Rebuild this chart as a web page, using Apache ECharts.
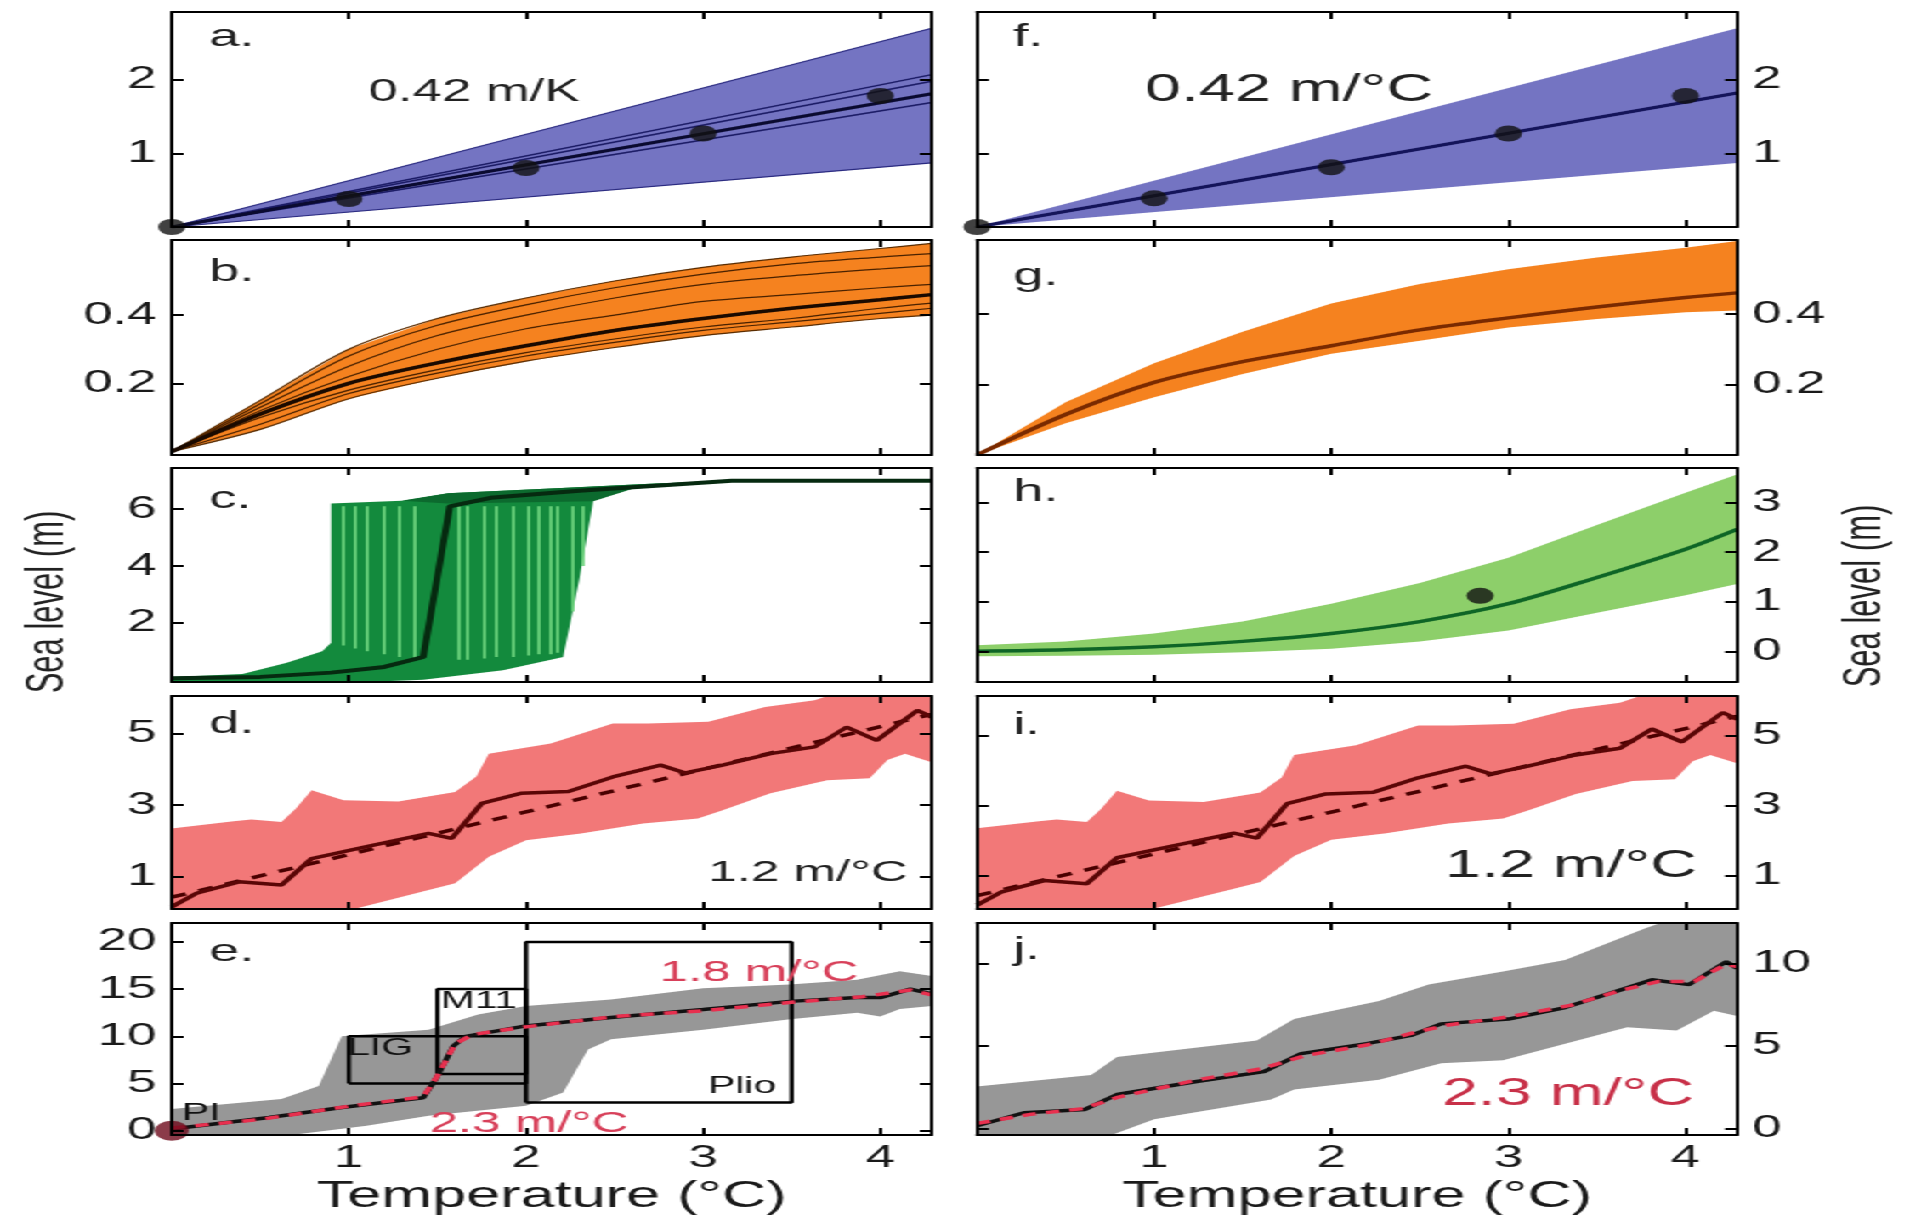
<!DOCTYPE html>
<html>
<head>
<meta charset="utf-8">
<script src="https://cdn.jsdelivr.net/npm/echarts@6/dist/echarts.min.js"></script>
<style>
  html, body { margin: 0; padding: 0; background: #fff; }
  #wrap { width: 1907px; height: 1216px; overflow: hidden; }
  /* the source figure is stretched sideways, so the chart is drawn narrow and widened */
  #chart { width: 1122px; height: 1216px; transform: scaleX(1.7); transform-origin: 0 0; }
</style>
</head>
<body>
<div id="wrap"><div id="chart"></div></div>
<script>
// ---- data (temperature in degC on x, sea level in m on y) ----
var xTicks = [1, 2, 3, 4]
var aTicks = [1, 2], bTicks = [0.2, 0.4], cTicks = [2, 4, 6], dTicks = [1, 3, 5], eTicks = [0, 5, 10, 15, 20]
var fTicks = [1, 2], gTicks = [0.2, 0.4], hTicks = [0, 1, 2, 3], iTicks = [1, 3, 5], jTicks = [0, 5, 10]

// a / f : linear fits
var aUpperEnd = 2.70, aLowerEnd = 0.87, aMainEnd = 1.81
var aModelEnds = [2.07, 1.98, 1.69]
var aDots = [[0, 0], [1, 0.38], [2, 0.80], [3, 1.27], [4, 1.78]]
var fUpperEnd = 2.70, fLowerEnd = 0.87, fMainEnd = 1.82
var fDots = [[0, 0], [1, 0.39], [2, 0.81], [3, 1.27], [4, 1.78]]

// b / g : glaciers
var bgX = [0, 0.5, 1, 1.5, 2, 2.5, 3, 3.5, 4, 4.29]
var bUpper = [0, 0.15, 0.30, 0.39, 0.45, 0.50, 0.54, 0.57, 0.595, 0.61]
var bLower = [0, 0.065, 0.155, 0.215, 0.265, 0.305, 0.34, 0.365, 0.39, 0.40]
var bMain = [0, 0.11, 0.20, 0.26, 0.31, 0.355, 0.39, 0.42, 0.445, 0.46]
var bModels = [
  [0, 0.14, 0.28, 0.37, 0.43, 0.48, 0.52, 0.55, 0.57, 0.58],
  [0, 0.13, 0.25, 0.34, 0.40, 0.45, 0.49, 0.515, 0.535, 0.545],
  [0, 0.12, 0.22, 0.30, 0.36, 0.40, 0.44, 0.46, 0.48, 0.49],
  [0, 0.10, 0.18, 0.24, 0.29, 0.33, 0.365, 0.39, 0.42, 0.435],
  [0, 0.08, 0.17, 0.23, 0.28, 0.32, 0.355, 0.38, 0.405, 0.42]
]
var gUpper = [0, 0.15, 0.26, 0.35, 0.43, 0.485, 0.527, 0.56, 0.588, 0.607]
var gLower = [0, 0.09, 0.164, 0.23, 0.287, 0.324, 0.362, 0.386, 0.405, 0.41]
var gMain = [0, 0.115, 0.206, 0.265, 0.31, 0.355, 0.389, 0.42, 0.447, 0.46]

// c : Greenland threshold ensemble, h : Greenland fit
var cEnvelope = [[0, -0.1], [0, 0.1], [0.4, 0.2], [0.65, 0.6], [0.85, 1.0], [0.9, 1.3], [0.9, 6.2], [1.3, 6.3],
  [1.56, 6.56], [2.2, 6.75], [2.7, 6.9], [3.16, 7.0], [2.6, 6.72], [2.38, 6.3], [2.3, 3.5], [2.21, 0.8],
  [1.87, 0.33], [1.42, 0.0], [1.0, -0.1]]
var cTopBand = [[1.3, 6.3], [1.56, 6.56], [2.2, 6.75], [2.7, 6.9], [3.16, 7.0], [2.6, 6.72], [2.38, 6.28], [1.56, 6.2]]
var cStripeX = [0.97, 1.03, 1.10, 1.20, 1.28, 1.37, 1.62, 1.67, 1.76, 1.83, 1.93, 2.01, 2.07, 2.14, 2.18, 2.26, 2.32]
var cStripeLo = [1.2, 1.1, 1.0, 0.9, 0.8, 0.7, 0.7, 0.7, 0.75, 0.8, 0.8, 0.85, 0.9, 0.9, 0.95, 2.4, 4.0]
var cStripeHi = [6.1, 6.1, 6.1, 6.1, 6.1, 6.1, 6.1, 6.1, 6.1, 6.1, 6.1, 6.1, 6.1, 6.1, 6.1, 6.1, 6.1]
var cMain = [[0, 0.05], [0.5, 0.1], [0.9, 0.25], [1.2, 0.45], [1.42, 0.8], [1.57, 6.1], [1.8, 6.4], [2.3, 6.65],
  [2.8, 6.85], [3.16, 7.0], [4.29, 7.0]]
var hX = [0, 0.5, 1, 1.5, 2, 2.5, 3, 3.5, 4, 4.29]
var hUpper = [0.12, 0.2, 0.36, 0.6, 0.96, 1.38, 1.89, 2.55, 3.2, 3.57]
var hLower = [-0.1, -0.09, -0.07, -0.02, 0.05, 0.2, 0.42, 0.78, 1.13, 1.36]
var hMain = [0, 0.03, 0.09, 0.2, 0.36, 0.6, 0.96, 1.49, 2.06, 2.46]
var hDot = [[2.84, 1.12]]

// d / i : Antarctica
var dUpper = [[0, 2.35], [0.35, 2.55], [0.45, 2.6], [0.62, 2.53], [0.7, 2.9], [0.79, 3.42], [0.97, 3.14], [1.28, 3.1],
  [1.6, 3.37], [1.72, 3.8], [1.79, 4.44], [2.14, 4.72], [2.49, 5.28], [2.69, 5.28], [3.03, 5.33], [3.35, 5.74],
  [3.63, 5.93], [3.85, 6.3], [4.29, 6.4]]
var dLower = [[0, -0.6], [0.6, -0.3], [1.03, 0.1], [1.45, 0.63], [1.6, 0.82], [1.79, 1.56], [2.0, 2.02], [2.31, 2.21],
  [2.66, 2.49], [2.97, 2.63], [3.11, 2.86], [3.38, 3.33], [3.7, 3.7], [3.94, 3.75], [4.04, 4.26], [4.14, 4.44], [4.29, 4.2]]
var dMain = [[0, 0.16], [0.14, 0.54], [0.38, 0.86], [0.62, 0.77], [0.79, 1.51], [1.1, 1.84], [1.45, 2.21], [1.58, 2.07],
  [1.75, 3.05], [1.97, 3.33], [2.24, 3.38], [2.49, 3.79], [2.76, 4.12], [2.9, 3.9], [3.11, 4.12], [3.38, 4.44],
  [3.63, 4.63], [3.81, 5.18], [3.98, 4.81], [4.21, 5.65], [4.29, 5.46]]
var dFit = [[0, 0.43], [4.29, 5.54]]

// e / j : total
var eUpper = [[0, 2.3], [0.62, 3.35], [0.83, 4.75], [0.96, 10.0], [1.45, 10.7], [1.73, 12.3], [2.0, 13.2], [2.48, 13.9],
  [3.0, 15.1], [3.49, 15.5], [3.87, 16.0], [4.11, 16.9], [4.29, 16.4]]
var eLower = [[0, -1.2], [0.72, -0.35], [1.1, 0.53], [1.45, 1.58], [2.0, 2.64], [2.21, 4.05], [2.35, 8.6], [2.48, 9.7],
  [3.0, 10.7], [3.49, 11.8], [3.87, 12.5], [4.0, 12.1], [4.11, 12.9], [4.29, 13.2]]
var eMain = [[0, 0.18], [0.55, 1.41], [0.96, 2.47], [1.42, 3.5], [1.49, 5.46], [1.59, 8.98], [1.66, 10.0], [2.0, 11.1],
  [2.48, 12.0], [3.0, 12.85], [3.49, 13.7], [3.87, 14.1], [4.0, 14.1], [4.17, 15.0], [4.29, 14.5]]
var eRed = [[0, 0.3], [0.5, 1.2], [1.0, 2.6], [1.42, 3.6], [1.5, 5.8], [1.6, 9.2], [1.7, 10.2], [2.0, 11.0], [2.5, 12.1],
  [3.0, 12.7], [3.5, 13.6], [3.9, 14.2], [4.17, 14.9], [4.29, 14.4]]
var eOrigin = [[0, 0]]
var boxLIG = [1, 2, 5, 10], boxM11 = [1.5, 2, 6, 15], boxPlio = [2, 3.5, 3, 20]
var jUpper = [[0, 2.54], [0.645, 3.24], [0.79, 4.33], [1.58, 5.33], [1.79, 6.62], [2.27, 7.71], [2.55, 8.71], [2.97, 9.5],
  [3.32, 10.2], [3.77, 12.1], [3.9, 12.6], [4.29, 12.6]]
var jLower = [[0, -1.5], [0.76, -0.4], [1.0, 0.55], [1.66, 1.75], [1.79, 2.35], [2.27, 2.94], [2.62, 3.94], [2.97, 4.13],
  [3.32, 5.13], [3.67, 6.12], [3.95, 5.93], [4.16, 7.12], [4.29, 6.8]]
var jMain = [[0, 0.16], [0.265, 0.95], [0.61, 1.15], [0.79, 2.05], [1.24, 2.84], [1.62, 3.44], [1.83, 4.53], [2.2, 5.13],
  [2.45, 5.63], [2.62, 6.33], [3.0, 6.62], [3.32, 7.32], [3.67, 8.51], [3.81, 9.0], [4.02, 8.71], [4.23, 10.1], [4.29, 9.7]]
var jRed = [[0, 0.3], [0.3, 0.85], [0.6, 1.2], [0.8, 1.9], [1.25, 2.95], [1.6, 3.6], [1.85, 4.4], [2.2, 5.05], [2.45, 5.75],
  [2.65, 6.25], [3.0, 6.75], [3.35, 7.45], [3.65, 8.4], [3.85, 8.9], [4.05, 8.9], [4.23, 9.95], [4.29, 9.8]]

// ---- layout ----
var S = 1.7
var FONT = 'Liberation Sans'
var XMAX = 4.29
var colLeft = [101, 574.7]
var colWidth = 447
var rows = [[12, 215], [240, 215], [468, 214], [696, 213], [923, 213]]
var panels = [
  { col: 0, row: 0, min: 0, max: 2.92, ticks: aTicks },
  { col: 0, row: 1, min: -0.01, max: 0.62, ticks: bTicks },
  { col: 0, row: 2, min: -0.08, max: 7.45, ticks: cTicks },
  { col: 0, row: 3, min: 0.1, max: 6.05, ticks: dTicks },
  { col: 0, row: 4, min: -0.45, max: 22, ticks: eTicks },
  { col: 1, row: 0, min: 0, max: 2.92, ticks: fTicks },
  { col: 1, row: 1, min: 0, max: 0.61, ticks: gTicks },
  { col: 1, row: 2, min: -0.62, max: 3.7, ticks: hTicks },
  { col: 1, row: 3, min: 0.05, max: 6.12, ticks: iTicks },
  { col: 1, row: 4, min: -0.4, max: 12.44, ticks: jTicks }
]

var grid = [], xAxis = [], yAxis = []
var tickStyle = { show: true, inside: true, length: 7, lineStyle: { color: '#000', width: 2 } }
var lineStyleAx = { show: true, onZero: false, lineStyle: { color: '#000', width: 2 } }
var labelStyle = { fontSize: 31, fontFamily: FONT, color: '#1a1a1a' }
panels.forEach(function (p, g) {
  grid.push({ left: colLeft[p.col], top: rows[p.row][0], width: colWidth, height: rows[p.row][1] })
  var bottom = p.row === 4
  xAxis.push({
    gridIndex: g, type: 'value', min: 0, max: XMAX, position: 'bottom', z: 10,
    axisLine: lineStyleAx,
    axisTick: Object.assign({ customValues: xTicks }, tickStyle),
    axisLabel: Object.assign({ show: bottom, customValues: xTicks, margin: 8 }, labelStyle),
    splitLine: { show: false },
    name: bottom ? 'Temperature (°C)' : '', nameLocation: 'middle', nameGap: 44,
    nameTextStyle: { fontSize: 36, fontFamily: FONT, color: '#1a1a1a' }
  })
  xAxis.push({
    gridIndex: g, type: 'value', min: 0, max: XMAX, position: 'top', z: 10,
    axisLine: lineStyleAx,
    axisTick: Object.assign({ customValues: xTicks }, tickStyle),
    axisLabel: { show: false }, splitLine: { show: false }
  })
  yAxis.push({
    gridIndex: g, type: 'value', min: p.min, max: p.max, position: p.col ? 'right' : 'left', z: 10,
    axisLine: lineStyleAx,
    axisTick: Object.assign({ customValues: p.ticks }, tickStyle),
    axisLabel: Object.assign({ customValues: p.ticks, margin: 9 }, labelStyle),
    splitLine: { show: false }
  })
  yAxis.push({
    gridIndex: g, type: 'value', min: p.min, max: p.max, position: p.col ? 'left' : 'right', z: 10,
    axisLine: lineStyleAx,
    axisTick: Object.assign({ customValues: p.ticks }, tickStyle),
    axisLabel: { show: false }, splitLine: { show: false }
  })
})

function pairs (xs, ys) {
  return xs.map(function (x, i) { return [x, ys[i]] })
}
function ray (end) {
  return [[0, 0], [XMAX, end]]
}
function polygon (g, pts, color, z) {
  return {
    type: 'custom', xAxisIndex: 2 * g, yAxisIndex: 2 * g, clip: true, silent: true, z: z || 1,
    data: [[0, 0]],
    renderItem: function (params, api) {
      return { type: 'polygon', shape: { points: pts.map(function (p) { return api.coord(p) }) }, style: { fill: color } }
    }
  }
}
function band (g, upper, lower, color, z) {
  return polygon(g, upper.concat(lower.slice().reverse()), color, z)
}
function curve (g, pts, color, width, dash, smooth, z) {
  return {
    type: 'line', xAxisIndex: 2 * g, yAxisIndex: 2 * g, data: pts, symbol: 'none', silent: true,
    smooth: smooth || false, z: z || 3,
    lineStyle: { color: color, width: width, type: dash || 'solid' }
  }
}
function dots (g, pts, color, size) {
  return {
    type: 'scatter', xAxisIndex: 2 * g, yAxisIndex: 2 * g, data: pts, symbolSize: size, silent: true, z: 6,
    itemStyle: { color: color }
  }
}
function box (b) {
  return [[b[0], b[2]], [b[1], b[2]], [b[1], b[3]], [b[0], b[3]], [b[0], b[2]]]
}

var series = []
// a
series.push(band(0, ray(aUpperEnd), ray(aLowerEnd), '#7474c2'))
aModelEnds.forEach(function (v) { series.push(curve(0, ray(v), '#1c1c66', 1.5)) })
series.push(curve(0, ray(aUpperEnd), '#2a2a80', 1.2))
series.push(curve(0, ray(aLowerEnd), '#2a2a80', 1.2))
series.push(curve(0, ray(aMainEnd), '#0a0a30', 3))
series.push(dots(0, aDots, '#111', 16))
// b
series.push(band(1, pairs(bgX, bUpper), pairs(bgX, bLower), '#f5821f'))
bModels.forEach(function (m) { series.push(curve(1, pairs(bgX, m), '#4a2200', 1.2, null, 0.3)) })
series.push(curve(1, pairs(bgX, bUpper), '#5a2c00', 1.2, null, 0.3))
series.push(curve(1, pairs(bgX, bLower), '#5a2c00', 1.2, null, 0.3))
series.push(curve(1, pairs(bgX, bMain), '#1a0a00', 3.5, null, 0.3))
// c
series.push(polygon(2, cEnvelope, '#138a3d'))
series.push(polygon(2, cTopBand, '#0c6a2e', 2))
series.push({
  type: 'lines', coordinateSystem: 'cartesian2d', xAxisIndex: 4, yAxisIndex: 4, silent: true, z: 3,
  data: cStripeX.map(function (x, i) { return { coords: [[x, cStripeLo[i]], [x, cStripeHi[i]]] } }),
  lineStyle: { color: '#6fd47e', width: 2, opacity: 0.85 }
})
series.push(curve(2, cMain, '#062a10', 4, null, false, 5))
// d
series.push(band(3, dUpper, dLower, '#f27878'))
series.push(curve(3, dFit, '#4a0000', 3.5, [9, 8]))
series.push(curve(3, dMain, '#5a0606', 3.5))
// e
series.push(band(4, eUpper, eLower, '#979797'))
series.push(curve(4, box(boxLIG), '#000', 2.5, null, false, 4))
series.push(curve(4, box(boxM11), '#000', 2.5, null, false, 4))
series.push(curve(4, box(boxPlio), '#000', 2.5, null, false, 4))
series.push(curve(4, eMain, '#111', 3.5, null, false, 5))
series.push(curve(4, eRed, '#e8304f', 3.5, [8, 6], false, 5))
series.push(dots(4, eOrigin, '#6e0a1c', 20))
// f
series.push(band(5, ray(fUpperEnd), ray(fLowerEnd), '#7474c2'))
series.push(curve(5, ray(fMainEnd), '#14145a', 3))
series.push(dots(5, fDots, '#111', 16))
// g
series.push(band(6, pairs(bgX, gUpper), pairs(bgX, gLower), '#f5821f'))
series.push(curve(6, pairs(bgX, gMain), '#7a2a00', 3.5, null, 0.3))
// h
series.push(band(7, pairs(hX, hUpper), pairs(hX, hLower), '#8dcf6a'))
series.push(curve(7, pairs(hX, hMain), '#0e6526', 3.5, null, 0.3))
series.push(dots(7, hDot, '#111', 16))
// i
series.push(band(8, dUpper, dLower, '#f27878'))
series.push(curve(8, dFit, '#4a0000', 3.5, [9, 8]))
series.push(curve(8, dMain, '#5a0606', 3.5))
// j
series.push(band(9, jUpper, jLower, '#979797'))
series.push(curve(9, jMain, '#111', 3.5, null, false, 5))
series.push(curve(9, jRed, '#e8304f', 3.5, [8, 6], false, 5))

function txt (x, y, text, size, color, align, extra) {
  return Object.assign({
    type: 'text', x: x / S, y: y, z: 100, silent: true,
    style: { text: text, fontSize: size, fontFamily: FONT, fill: color || '#222', align: align || 'center', verticalAlign: 'middle' }
  }, extra || {})
}
var graphic = [
  txt(209, 37, 'a.', 32, '#222', 'left'),
  txt(209, 272, 'b.', 32, '#222', 'left'),
  txt(209, 499, 'c.', 32, '#222', 'left'),
  txt(209, 724, 'd.', 32, '#222', 'left'),
  txt(209, 952, 'e.', 32, '#222', 'left'),
  txt(1013, 37, 'f.', 32, '#222', 'left'),
  txt(1013, 276, 'g.', 32, '#222', 'left'),
  txt(1013, 492, 'h.', 32, '#222', 'left'),
  txt(1013, 725, 'i.', 32, '#222', 'left'),
  txt(1013, 950, 'j.', 32, '#222', 'left'),
  txt(474, 92, '0.42 m/K', 31),
  txt(1289, 91, '0.42 m/°C', 38),
  txt(808, 873, '1.2 m/°C', 30),
  txt(1571, 867, '1.2 m/°C', 38),
  txt(759, 973, '1.8 m/°C', 30, '#d8405a'),
  txt(529, 1124, '2.3 m/°C', 30, '#d8405a'),
  txt(1568, 1095, '2.3 m/°C', 38, '#c83048'),
  txt(380, 1048, 'LIG', 24, '#111'),
  txt(479, 1001, 'M11', 24, '#111'),
  txt(742, 1086, 'Plio', 24, '#111'),
  txt(201, 1113, 'PI', 24, '#111'),
  txt(49, 602, 'Sea level (m)', 31, '#222', 'center', { rotation: Math.PI / 2 }),
  txt(1865, 596, 'Sea level (m)', 31, '#222', 'center', { rotation: Math.PI / 2 })
]

var chart = echarts.init(document.getElementById('chart'))
chart.setOption({
  animation: false,
  backgroundColor: '#fff',
  grid: grid,
  xAxis: xAxis,
  yAxis: yAxis,
  series: series,
  graphic: graphic
})
</script>
</body>
</html>
